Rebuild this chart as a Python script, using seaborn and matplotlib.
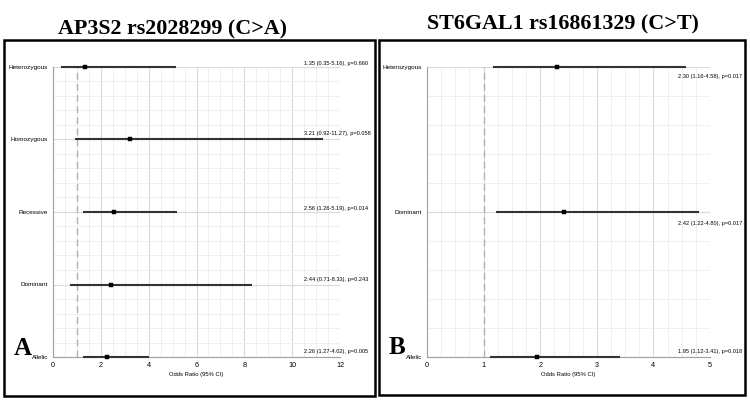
import matplotlib
matplotlib.use("Agg")
import matplotlib.pyplot as plt
import matplotlib.patches as patches
from matplotlib.ticker import MultipleLocator
import seaborn as sns
import pandas as pd

# ---- data ----
a_models = ["Heterozygous", "Homozygous", "Recessive", "Dominant", "Allelic"]
a_or = [1.35, 3.21, 2.56, 2.44, 2.26]
a_lo = [0.35, 0.92, 1.26, 0.71, 1.27]
a_hi = [5.16, 11.27, 5.19, 8.33, 4.02]
a_p = ["0.660", "0.058", "0.014", "0.243", "0.005"]

b_models = ["Heterozygous", "Dominant", "Allelic"]
b_or = [2.30, 2.42, 1.95]
b_lo = [1.16, 1.22, 1.12]
b_hi = [4.58, 4.80, 3.41]
b_p = ["0.017", "0.017", "0.018"]

titles = ["AP3S2 rs2028299 (C>A)", "ST6GAL1 rs16861329 (C>T)"]
panel_letters = ["A", "B"]

sns.set_theme(style="white")
plt.rcParams['font.family'] = ['Liberation Sans', 'DejaVu Sans']
plt.rcParams['text.color'] = 'black'

W, H = 750, 401
fig = plt.figure(figsize=(W / 100, H / 100), dpi=100)


def px_axes(x0, y0, x1, y1):
    return fig.add_axes([x0 / W, 1 - y1 / H, (x1 - x0) / W, (y1 - y0) / H])


def panel(ax, models, orv, lo, hi, pv, xmax, xmajor, xminor, text_x, text_dys):
    n = len(models)
    ypos = list(range(n - 1, -1, -1))
    df = pd.DataFrame({"model": models, "OR": orv, "lo": lo, "hi": hi, "y": ypos})
    ax.set_xlim(0, xmax)
    ax.set_ylim(0, n - 1)
    ax.xaxis.set_major_locator(MultipleLocator(xmajor))
    ax.xaxis.set_minor_locator(MultipleLocator(xminor))
    ax.yaxis.set_major_locator(MultipleLocator(1))
    ax.yaxis.set_minor_locator(MultipleLocator(0.2))
    ax.grid(True, which="major", color="#dadada", lw=0.8)
    ax.grid(True, which="minor", color="#ededed", lw=0.6)
    ax.set_axisbelow(True)
    ax.axvline(1, color="#b0b0b0", ls=(0, (5, 3)), lw=1.0, zorder=2)
    ax.hlines(df["y"], df["lo"], df["hi"], color="#333333", lw=1.5, zorder=3, clip_on=False)
    sns.scatterplot(data=df, x="OR", y="y", marker="s", s=6, color="black",
                    edgecolor="black", linewidth=0.3, ax=ax, zorder=4, clip_on=False)
    for i in range(n):
        ax.annotate(f"{orv[i]:.2f} ({lo[i]:.2f}-{hi[i]:.2f}), p={pv[i]}",
                    xy=(text_x, ypos[i]), xytext=(0, text_dys[i]), textcoords="offset points",
                    ha="left", va="center", fontsize=4.1, color="black",
                    annotation_clip=False)
    ax.set_yticks(ypos)
    ax.set_yticklabels(models)
    for s in ["top", "right"]:
        ax.spines[s].set_visible(False)
    for s in ["left", "bottom"]:
        ax.spines[s].set_color("#a0a0a0")
        ax.spines[s].set_linewidth(0.8)
    ax.tick_params(axis="y", which="major", length=2.5, width=0.6, color="#a0a0a0",
                   labelsize=4.6, pad=1.2, labelcolor="black")
    ax.tick_params(axis="x", which="major", length=2, width=0.6, color="#a0a0a0",
                   labelsize=5.2, pad=1.5, labelcolor="black")
    ax.tick_params(axis="both", which="minor", length=0)
    ax.set_xlabel("Odds Ratio (95% CI)", fontsize=4.2, labelpad=2.5, color="black")
    ax.set_ylabel("")


axA = px_axes(53, 67, 340, 357)
panel(axA, a_models, a_or, a_lo, a_hi, a_p, 12, 2, 0.5, 10.5, [2.3, 4.2, 2.3, 3.6, 3.6])
axB = px_axes(427, 67, 710, 357)
panel(axB, b_models, b_or, b_lo, b_hi, b_p, 5, 1, 0.25, 4.43, [-6.5, -8.0, 3.6])

# panel borders
for (x0, y0, x1, y1) in [(4, 40, 375, 396), (379, 40, 745, 395)]:
    fig.add_artist(patches.Rectangle((x0 / W, 1 - y1 / H), (x1 - x0) / W, (y1 - y0) / H,
                                     transform=fig.transFigure, fill=False,
                                     edgecolor="black", lw=1.8))

# titles and panel letters
serif = dict(fontweight="bold", family="Liberation Serif", color="black")
fig.text(172 / W, 1 - 29 / H, titles[0], ha="center", va="center", fontsize=15.8, **serif)
fig.text(563 / W, 1 - 24 / H, titles[1], ha="center", va="center", fontsize=15.8, **serif)
fig.text(14 / W, 1 - 355 / H, panel_letters[0], ha="left", va="baseline", fontsize=18, **serif)
fig.text(389 / W, 1 - 354 / H, panel_letters[1], ha="left", va="baseline", fontsize=18, **serif)

fig.savefig("out.png", dpi=100)
